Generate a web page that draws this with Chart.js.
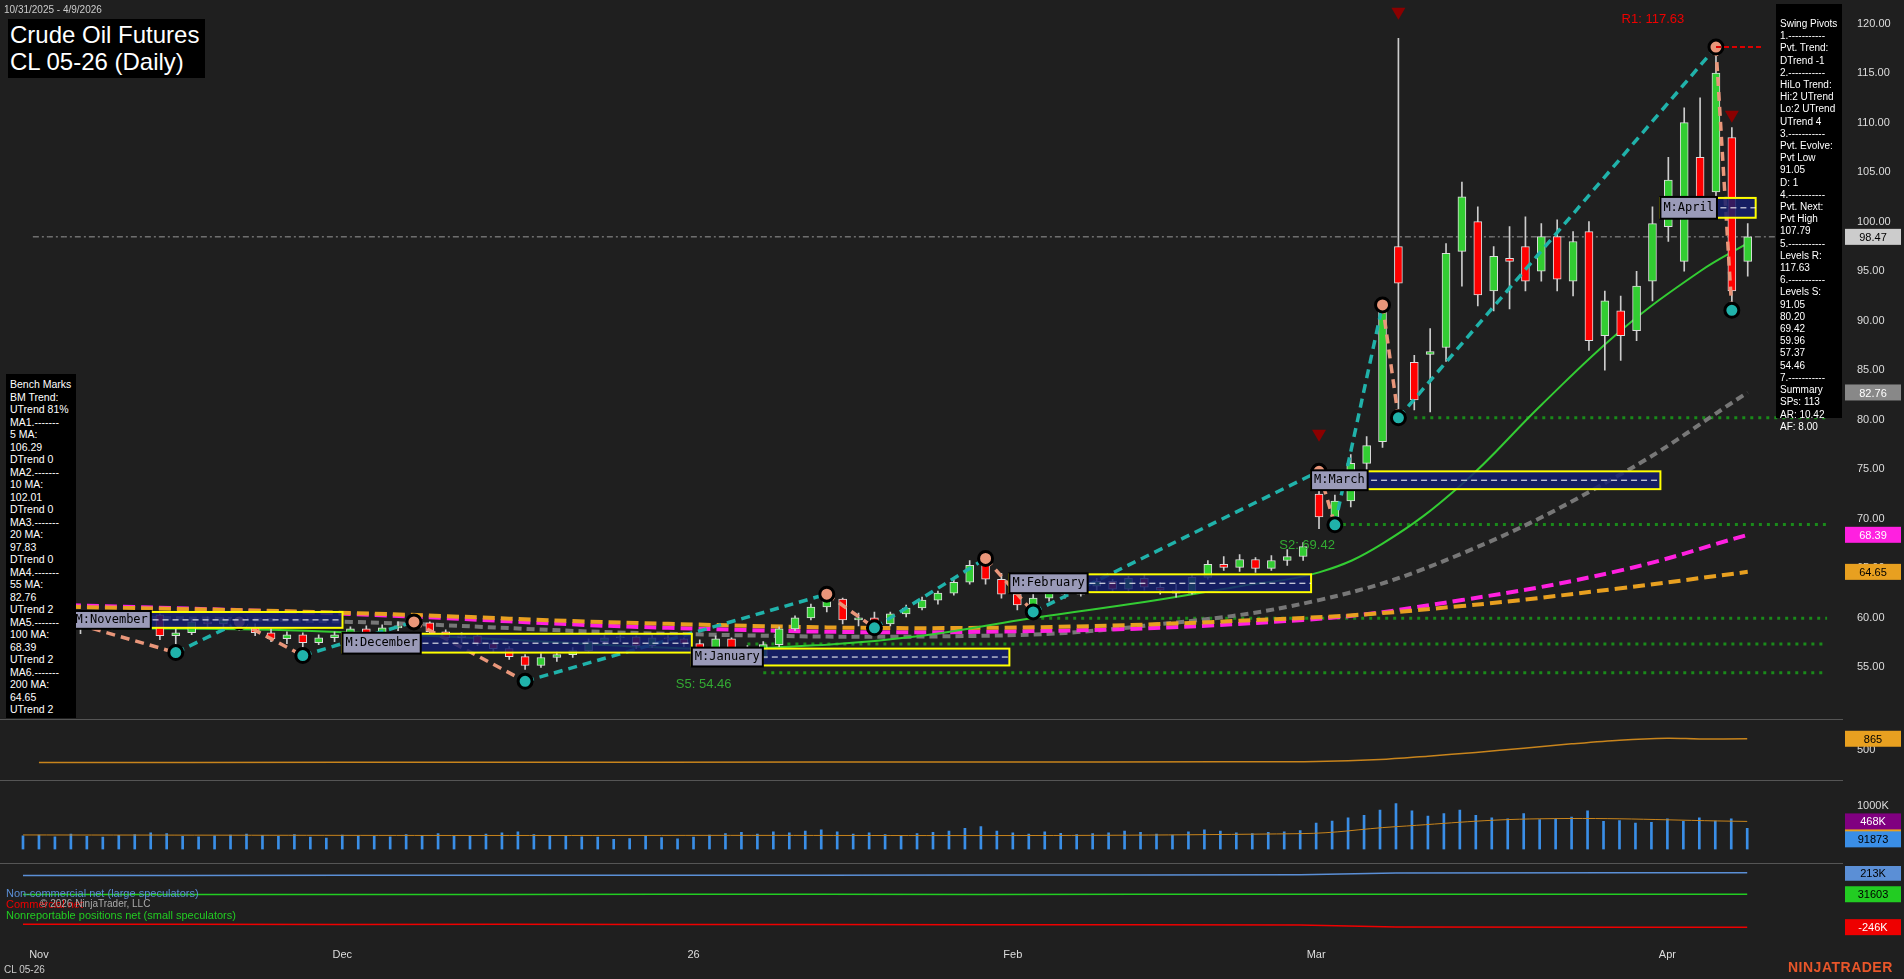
<!DOCTYPE html>
<html><head><meta charset="utf-8">
<script src="https://cdn.jsdelivr.net/npm/chart.js@4.4.1/dist/chart.umd.min.js"></script>
<style>
body{margin:0;background:#1f1f1f;width:1904px;height:979px;overflow:hidden;font-family:Arial,"Liberation Sans",sans-serif;}
.c{position:absolute;left:0;width:1904px}
.sep{position:absolute;left:0;width:1843px;height:1px;background:#555}
.box{position:absolute;background:#000;color:#fff;font-size:10.5px;line-height:12.5px}
</style></head><body>
<div class="c" style="top:0;height:716px"><canvas id="m"></canvas></div>
<div class="sep" style="top:719px"></div>
<div class="c" style="top:722px;height:56px"><canvas id="p2"></canvas></div>
<div class="sep" style="top:780px"></div>
<div class="c" style="top:783px;height:79px"><canvas id="p3"></canvas></div>
<div class="sep" style="top:863px"></div>
<div class="c" style="top:866px;height:113px"><canvas id="p4"></canvas></div>
<div style="position:absolute;left:4px;top:4px;color:#ccc;font-size:10px">10/31/2025 - 4/9/2026</div>
<div style="position:absolute;left:8px;top:19px;background:#000;color:#fff;font-size:24px;line-height:27px;padding:2px 6px 3px 2px">Crude Oil Futures<br>CL 05-26 (Daily)</div>
<div class="box" style="left:6px;top:374px;width:66px;height:340px;padding:4px 0 0 4px">Bench Marks<br>BM Trend:<br>UTrend 81%<br>MA1.-------<br>5 MA:<br>106.29<br>DTrend 0<br>MA2.-------<br>10 MA:<br>102.01<br>DTrend 0<br>MA3.-------<br>20 MA:<br>97.83<br>DTrend 0<br>MA4.-------<br>55 MA:<br>82.76<br>UTrend 2<br>MA5.-------<br>100 MA:<br>68.39<br>UTrend 2<br>MA6.-------<br>200 MA:<br>64.65<br>UTrend 2</div>
<div class="box" style="left:1776px;top:4px;width:62px;height:400px;padding:14px 0 0 4px;font-size:10px;line-height:12.2px">Swing Pivots<br>1.-----------<br>Pvt. Trend:<br>DTrend -1<br>2.-----------<br>HiLo Trend:<br>Hi:2 UTrend<br>Lo:2 UTrend<br>UTrend 4<br>3.-----------<br>Pvt. Evolve:<br>Pvt Low<br>91.05<br>D: 1<br>4.-----------<br>Pvt. Next:<br>Pvt High<br>107.79<br>5.-----------<br>Levels R:<br>117.63<br>6.-----------<br>Levels S:<br>91.05<br>80.20<br>69.42<br>59.96<br>57.37<br>54.46<br>7.-----------<br>Summary<br>SPs: 113<br>AR: 10.42<br>AF: 8.00</div>
<div style="position:absolute;left:6px;top:888px;font-size:11px;line-height:11px"><span style="color:#5b8fd6">Non-commercial net (large speculators)</span><br><span style="color:#e00">Commercial net</span><br><span style="color:#2c2">Nonreportable positions net (small speculators)</span></div>
<div style="position:absolute;left:40px;top:898px;color:#aaa;font-size:10px">© 2026 NinjaTrader, LLC</div>
<div style="position:absolute;left:4px;top:964px;color:#ccc;font-size:10px">CL 05-26</div>
<div style="position:absolute;left:1788px;top:959px;color:#e8562a;font-size:14px;font-weight:bold;letter-spacing:0.5px">NINJATRADER</div>
<script>
const dates=["10/31","11/3","11/4","11/5","11/6","11/7","11/10","11/11","11/12","11/13","11/14","11/17","11/18","11/19","11/20","11/21","11/24","11/25","11/26","11/28","12/1","12/2","12/3","12/4","12/5","12/8","12/9","12/10","12/11","12/12","12/15","12/16","12/17","12/18","12/19","12/22","12/23","12/24","12/26","12/29","12/30","12/31","1/2","1/5","1/6","1/7","1/8","1/9","1/12","1/13","1/14","1/15","1/16","1/20","1/21","1/22","1/23","1/26","1/27","1/28","1/29","1/30","2/2","2/3","2/4","2/5","2/6","2/9","2/10","2/11","2/12","2/13","2/17","2/18","2/19","2/20","2/23","2/24","2/25","2/26","2/27","3/2","3/3","3/4","3/5","3/6","3/9","3/10","3/11","3/12","3/13","3/16","3/17","3/18","3/19","3/20","3/23","3/24","3/25","3/26","3/27","3/30","3/31","4/1","4/2","4/6","4/7","4/8","4/9"];
const opens=[60.0,59.8,59.6,59.0,59.4,59.1,59.7,60.0,60.3,58.2,58.5,59.6,59.4,59.8,59.0,58.5,57.9,58.3,57.5,58.0,58.3,58.9,58.5,59.0,59.2,59.5,58.6,58.0,58.2,57.4,56.9,56.1,55.2,56.0,56.3,56.7,57.6,58.0,58.1,57.2,58.0,57.9,57.4,56.8,57.9,57.0,55.9,57.3,58.9,60.0,61.1,61.9,59.8,60.0,59.4,60.4,61.0,61.8,62.5,63.6,65.3,63.9,62.4,61.3,62.0,63.1,62.4,63.2,63.7,62.9,64.0,63.1,62.8,62.5,64.1,65.4,65.1,65.9,65.0,65.8,66.2,72.5,70.2,71.8,75.6,77.8,97.5,85.8,86.6,87.3,97.0,100.0,93.0,96.3,97.5,95.0,98.5,94.0,99.0,88.5,91.0,89.0,94.0,99.5,96.0,106.5,103.0,108.5,96.0];
const highs=[60.6,60.3,60.0,59.6,59.9,60.0,60.4,60.6,60.4,58.9,59.9,60.1,60.0,60.2,59.4,58.9,58.6,58.5,58.3,58.6,59.1,59.2,59.3,59.6,59.8,59.6,58.8,58.5,58.4,57.7,57.1,56.3,56.4,56.6,57.0,57.9,58.3,58.4,58.2,58.3,58.4,58.0,57.8,58.2,58.0,57.2,57.6,59.1,60.2,61.4,62.4,62.0,60.5,60.6,60.6,61.3,62.1,62.7,63.8,65.8,66.2,64.5,62.6,62.4,63.4,63.5,63.4,64.0,63.9,64.2,64.3,63.6,63.4,64.3,65.8,66.2,66.4,66.1,66.3,66.9,67.6,74.8,72.4,76.5,78.3,91.6,118.5,86.5,89.2,97.8,104.0,101.5,97.5,99.5,100.5,99.8,100.2,99.0,100.0,93.0,92.5,95.0,101.5,106.5,111.5,112.5,117.63,109.5,99.8];
const lows=[59.3,59.0,58.6,58.4,58.8,58.9,59.3,59.6,57.8,57.2,58.3,59.1,59.0,58.7,58.2,57.6,57.4,57.0,57.3,57.6,58.0,58.2,58.3,58.7,58.9,58.4,57.8,57.5,57.2,56.6,55.8,54.8,55.0,55.6,56.0,56.5,57.3,57.6,56.9,57.0,57.5,57.1,56.5,56.6,56.8,55.7,55.5,57.1,58.7,59.8,60.6,59.4,59.2,59.0,59.2,60.1,60.8,61.4,62.3,63.4,63.4,62.0,60.8,60.9,61.7,62.0,62.2,62.8,62.6,62.7,62.8,62.4,62.1,62.4,63.9,64.8,64.7,64.6,64.8,65.3,65.8,69.0,69.4,71.2,74.5,77.2,79.8,81.0,80.8,85.9,93.5,91.5,91.0,91.2,93.0,94.0,93.0,92.5,87.0,85.0,86.0,88.0,92.0,98.0,95.0,101.0,100.5,91.05,94.5];
const closes=[59.8,59.6,59.0,59.4,59.1,59.7,60.0,60.3,58.2,58.5,59.6,59.4,59.8,59.0,58.5,57.9,58.3,57.5,58.0,58.3,58.9,58.5,59.0,59.2,59.5,58.6,58.0,58.2,57.4,56.9,56.1,55.2,56.0,56.3,56.7,57.6,58.0,58.1,57.2,58.0,57.9,57.4,56.8,57.9,57.0,55.9,57.3,58.9,60.0,61.1,61.9,59.8,60.0,59.4,60.4,61.0,61.8,62.5,63.6,65.3,63.9,62.4,61.3,62.0,63.1,62.4,63.2,63.7,62.9,64.0,63.1,62.8,62.5,64.1,65.4,65.1,65.9,65.0,65.8,66.2,67.2,70.2,71.8,75.6,77.4,91.0,93.8,82.0,86.9,96.8,102.5,92.6,96.5,96.0,94.0,98.5,94.2,98.0,88.0,92.0,88.5,93.5,99.8,104.2,110.0,102.0,115.0,93.0,98.47];
const volK=[310,330,290,350,300,280,320,340,380,360,300,290,310,330,350,320,300,340,280,260,330,310,300,290,340,320,360,300,310,350,380,400,340,320,300,290,280,230,250,300,270,240,280,330,360,390,350,400,380,420,450,400,350,380,340,320,360,390,420,480,520,420,380,350,400,370,340,360,380,420,390,350,330,400,450,420,380,360,390,400,430,600,650,720,780,900,1050,880,760,820,900,780,720,700,820,680,700,740,880,640,660,600,620,700,640,720,650,700,480];
const oiIdx=[1,20,40,60,75,81,85,88,91,94,97,100,103,105,108];
const oiVal=[95,100,105,110,115,125,190,300,420,560,700,820,880,860,865];
const ma20Idx=[0,15,30,42,50,56,63,70,76,81,85,90,95,100,105,108];
const ma20=[59.0,58.8,57.8,56.9,57.3,58.2,60.0,61.6,63.2,64.6,67.5,73.5,81.5,89.0,95.0,97.83];
const ma55Idx=[0,20,40,60,70,81,90,100,108];
const ma55=[60.2,59.6,58.4,58.2,59.2,61.8,66.5,74.5,82.76];
const ma100Idx=[0,20,40,60,80,90,100,108];
const ma100=[61.4,60.4,59.0,58.6,59.8,61.8,64.8,68.39];
const ma200Idx=[0,20,40,60,80,90,100,108];
const ma200=[61.2,60.5,59.4,59.0,60.0,61.2,63.0,64.65];
const pivIdx=[1,9,13,17,24,31,50,53,60,63,81,82,85,86,106,107];
const pivVal=[60.2,56.5,59.6,56.2,59.6,53.6,62.4,59.0,66.0,60.6,74.8,69.4,91.6,80.2,117.63,91.05];
const supLevels=[80.20,69.42,59.96,57.37,54.46];
const supStart=[87,82,63,45,46];
const priceTicks=[55,60,65,70,75,80,85,90,95,100,105,110,115,120];
const months=[["M:November",3,19,60.6,59.0],["M:December",20,41,58.4,56.5],["M:January",42,61,56.9,55.2],["M:February",62,80,64.4,62.6],["M:March",81,102,74.8,73.0],["M:April",103,108,102.4,100.4]];
const monthTickIdx=[1,20,42,62,81,103];
const monthTickLbl=["Nov","Dec","26","Feb","Mar","Apr"];
const cotBlue=[190,190,192,191,193,192,194,195,196,210,213,213];
const cotGreen=[30,30,29,30,31,31,30,31,32,32,31.6,31.6];
const cotRed=[-222,-222,-223,-222,-224,-223,-225,-226,-228,-244,-246,-246];
const cotIdx=[0,10,20,30,40,50,60,70,80,86,100,108];

const XMIN=-1.44,XMAX=114;
const xs={type:'linear',min:XMIN,max:XMAX,display:false,offset:false};
function yAx(min,max,opts){return Object.assign({position:'right',min,max,grid:{display:false},border:{display:false},
 afterFit(s){s.width=61},ticks:{color:'#ddd',font:{size:11},padding:6}},opts||{});}
const pts=(ix,v)=>ix.map((x,k)=>({x,y:v[k]}));
const up=i=>closes[i]>=opens[i];

const tags={id:'tags',afterDatasetsDraw(ch,a,o){const c=ch.ctx,y=ch.scales.y,xs=ch.scales.x;
 (o.list||[]).forEach(t=>{const py=y.getPixelForValue(t[0]);c.fillStyle=t[1];c.fillRect(1845,py-8,56,16);
  c.fillStyle=t[2];c.font='11px Arial';c.textAlign='center';c.textBaseline='middle';c.fillText(t[3],1873,py+1);});
 if(o.draw)o.draw(c,xs,y);}};

Chart.defaults.animation=false;
Chart.defaults.font.family='Arial, "Liberation Sans", sans-serif';

new Chart(document.getElementById('m'),{type:'bar',
 data:{datasets:[
  {type:'line',data:dates.map((d,i)=>({x:i,y:98.47})).concat([{x:113,y:98.47}]),borderColor:'#999',borderWidth:1,borderDash:[6,3,2,3],pointRadius:0,order:9},
  ...supLevels.map((v,k)=>({type:'line',data:[{x:supStart[k],y:v},{x:113,y:v}],borderColor:'#1a8a1a',borderWidth:3,borderDash:[3,5],pointRadius:0,order:8})),
  {type:'line',data:[{x:106,y:117.63},{x:109,y:117.63}],borderColor:'#d00',borderWidth:2,borderDash:[5,3],pointRadius:0},
  {type:'line',data:pts(ma200Idx,ma200),borderColor:'#e8a020',borderWidth:4,borderDash:[12,6],pointRadius:0,tension:0.4,order:6},
  {type:'line',data:pts(ma100Idx,ma100),borderColor:'#ff20e0',borderWidth:4,borderDash:[12,6],pointRadius:0,tension:0.4,order:6},
  {type:'line',data:pts(ma55Idx,ma55),borderColor:'#777',borderWidth:4,borderDash:[8,5],pointRadius:0,tension:0.4,order:6},
  {type:'line',data:pts(ma20Idx,ma20),borderColor:'#3c3',borderWidth:2,pointRadius:0,tension:0.4,order:5},
  {type:'line',data:pts(pivIdx,pivVal),borderWidth:3.5,borderDash:[9,6],pointRadius:7,pointBackgroundColor:pivVal.map((v,k)=>k%2?'#20b2aa':'#e9967a'),pointBorderColor:'#000',pointBorderWidth:3,order:1,
   segment:{borderColor:s=>s.p1.parsed.y>s.p0.parsed.y?'#20b2aa':'#e9967a'}},
  {data:dates.map((d,i)=>({x:i,y:[lows[i],highs[i]]})),backgroundColor:'#ccc',barThickness:1,grouped:false,order:3},
  {data:dates.map((d,i)=>({x:i,y:[opens[i],closes[i]]})),backgroundColor:dates.map((d,i)=>up(i)?'#32cd32':'#ff0000'),borderColor:'#ddd',borderWidth:1,borderSkipped:false,barThickness:8,grouped:false,order:2}
 ]},
 options:{responsive:true,maintainAspectRatio:false,parsing:true,layout:{padding:0},plugins:{legend:{display:false},tooltip:{enabled:false},
  tags:{list:[[98.47,'#ccc','#000','98.47'],[82.76,'#888','#fff','82.76'],[68.39,'#ff20e0','#fff','68.39'],[64.65,'#e8a020','#000','64.65']],
   draw(c,x,y){months.forEach(m=>{const x0=x.getPixelForValue(m[1]-0.5),x1=x.getPixelForValue(m[2]+0.5),y0=y.getPixelForValue(m[3]),y1=y.getPixelForValue(m[4]);
     c.fillStyle='rgba(20,30,110,0.85)';c.fillRect(x0,y0,x1-x0,y1-y0);c.strokeStyle='#ff0';c.lineWidth=2;c.strokeRect(x0,y0,x1-x0,y1-y0);
     c.strokeStyle='#fff';c.setLineDash([6,4]);c.lineWidth=1;c.beginPath();c.moveTo(x0,(y0+y1)/2);c.lineTo(x1,(y0+y1)/2);c.stroke();c.setLineDash([]);
     c.font='12px "DejaVu Sans Mono",monospace';const w=c.measureText(m[0]).width+6;c.fillStyle='#9a9ab8';c.fillRect(x0,y0-1,w,(y1-y0)+2);
     c.strokeStyle='#000';c.lineWidth=2;c.strokeRect(x0,y0-1,w,(y1-y0)+2);c.fillStyle='#000';c.textAlign='left';c.textBaseline='middle';c.fillText(m[0],x0+3,(y0+y1)/2);});
    c.fillStyle='#e00';c.font='13px Arial';c.textAlign='right';c.fillText('R1: 117.63',x.getPixelForValue(104),y.getPixelForValue(120.4));
    c.fillStyle='#3a3';c.fillText('S5: 54.46',x.getPixelForValue(44),y.getPixelForValue(53.3));c.fillText('S2: 69.42',x.getPixelForValue(82),y.getPixelForValue(67.3));
    c.fillStyle='#8b0000';[[86,121.0],[107,110.6],[81,78.4]].forEach(p=>{const px=x.getPixelForValue(p[0]),py=y.getPixelForValue(p[1]);c.beginPath();c.moveTo(px-7,py-6);c.lineTo(px+7,py-6);c.lineTo(px,py+6);c.fill();});
   }}},
  scales:{x:xs,y:yAx(51.37,121.11,{afterBuildTicks(s){s.ticks=priceTicks.map(v=>({value:v}))},ticks:{color:'#ddd',font:{size:11},padding:6,autoSkip:false,callback:v=>Number(v).toFixed(2)}})}},
 plugins:[tags]});

new Chart(document.getElementById('p2'),{type:'line',data:{datasets:[{data:pts(oiIdx,oiVal),borderColor:'#c8841c',borderWidth:1.5,pointRadius:0,tension:0.3}]},
 options:{responsive:true,maintainAspectRatio:false,plugins:{legend:{display:false},tooltip:{enabled:false},tags:{list:[[865,'#e8a020','#000','865']]}},
 scales:{x:xs,y:yAx(0,1000,{afterBuildTicks(s){s.ticks=[{value:500}]}})}},plugins:[tags]});

new Chart(document.getElementById('p3'),{type:'bar',data:{datasets:[
 {type:'line',data:pts([0,40,80,86,95,108],[330,320,360,520,700,640]),borderColor:'#c8841c',borderWidth:1,pointRadius:0,tension:0.4},
 {data:volK.map((v,i)=>({x:i,y:v})),backgroundColor:'#3a8ee6',barThickness:2}]},
 options:{responsive:true,maintainAspectRatio:false,plugins:{legend:{display:false},tooltip:{enabled:false},tags:{list:[[560,'#e8a020','#000','540K'],[640,'#800080','#fff','468K'],[230,'#3a8ee6','#000','91873']]}},
 scales:{x:xs,y:yAx(0,1230,{afterBuildTicks(s){s.ticks=[{value:1000}]},ticks:{color:'#ddd',font:{size:11},padding:6,callback:v=>v+'K'}})}},plugins:[tags]});

new Chart(document.getElementById('p4'),{type:'line',data:{datasets:[
 {data:pts(cotIdx,cotBlue),borderColor:'#5b8fd6',borderWidth:1.5,pointRadius:0},
 {data:pts(cotIdx,cotGreen),borderColor:'#2c2',borderWidth:1.5,pointRadius:0},
 {data:pts(cotIdx,cotRed),borderColor:'#e00',borderWidth:1.5,pointRadius:0}]},
 options:{responsive:true,maintainAspectRatio:false,layout:{padding:{bottom:0}},plugins:{legend:{display:false},tooltip:{enabled:false},tags:{list:[[213,'#5b8fd6','#000','213K'],[31.6,'#2c2','#000','31603'],[-246,'#e00','#fff','-246K']]}},
 scales:{x:{type:'linear',min:XMIN,max:XMAX,offset:false,grid:{display:false},border:{display:false},
   afterBuildTicks(s){s.ticks=monthTickIdx.map(v=>({value:v}))},ticks:{color:'#ddd',font:{size:11},autoSkip:false,maxRotation:0,padding:10,callback:(v)=>monthTickLbl[monthTickIdx.indexOf(v)]},
   afterFit(s){s.height=49}},
  y:yAx(-270,270,{ticks:{display:false}})}},plugins:[tags]});
</script></body></html>
